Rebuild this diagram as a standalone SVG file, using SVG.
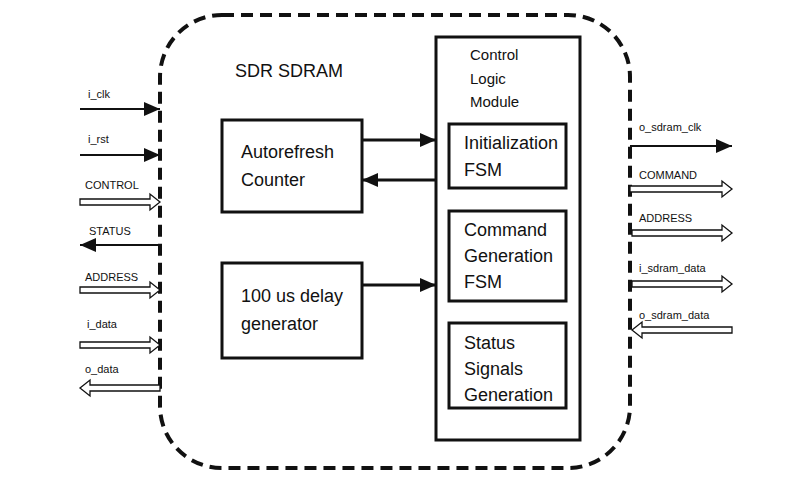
<svg xmlns="http://www.w3.org/2000/svg" width="795" height="491" viewBox="0 0 795 491">
<style>
text{font-family:"Liberation Sans",Arial,sans-serif;fill:#111}
.s{font-size:11px}.m{font-size:15px}.b{font-size:18px}
.box{fill:#fff;stroke:#111;stroke-width:3}
.ln{stroke:#111;stroke-width:2;fill:none}
.h{fill:#fff;stroke:#111;stroke-width:1.3}
</style>
<defs>
<marker id="a" markerWidth="16" markerHeight="14" refX="16" refY="7" orient="auto" markerUnits="userSpaceOnUse"><path d="M0,0L16,7L0,14Z" fill="#111"/></marker>
</defs>
<rect x="160" y="15" width="470" height="453" rx="62" fill="none" stroke="#111" stroke-width="4" stroke-dasharray="12,7"/>
<text x="235" y="77" class="b">SDR SDRAM</text>
<g id="autorefresh"><rect class="box" x="222" y="120" width="140" height="92"/><text x="241" y="158" class="b">Autorefresh</text><text x="241" y="186" class="b">Counter</text></g>
<g id="delay"><rect class="box" x="222" y="263" width="140" height="95"/><text x="241" y="302" class="b">100 us delay</text><text x="241" y="330" class="b">generator</text></g>
<g id="control"><rect class="box" x="436" y="37" width="144" height="403"/><text x="470" y="60" class="m">Control</text><text x="470" y="84" class="m">Logic</text><text x="470" y="107" class="m">Module</text></g>
<g id="init"><rect class="box" x="449" y="124" width="117" height="64"/><text x="464" y="149" class="b">Initialization</text><text x="464" y="176" class="b">FSM</text></g>
<g id="cmd"><rect class="box" x="449" y="211" width="117" height="90"/><text x="464" y="236" class="b">Command</text><text x="464" y="262" class="b">Generation</text><text x="464" y="288" class="b">FSM</text></g>
<g id="status"><rect class="box" x="449" y="323" width="117" height="85"/><text x="464" y="349" class="b">Status</text><text x="464" y="375" class="b">Signals</text><text x="464" y="401" class="b">Generation</text></g>
<g id="connectors">
<path class="ln" style="stroke-width:3" d="M362,140H436" marker-end="url(#a)"/>
<path class="ln" style="stroke-width:3" d="M436,180H362" marker-end="url(#a)"/>
<path class="ln" style="stroke-width:3" d="M362,285H436" marker-end="url(#a)"/>
<path class="ln" d="M80,109H160" marker-end="url(#a)"/>
<path class="ln" d="M80,155H160" marker-end="url(#a)"/>
<path class="ln" d="M160,245H80" marker-end="url(#a)"/>
<path class="ln" d="M630,146H732" marker-end="url(#a)"/>
<path class="h" d="M80,199H150V194L160,202L150,210V205H80Z"/>
<path class="h" d="M80,287H150V282L160,290L150,298V293H80Z"/>
<path class="h" d="M80,342H150V337L160,345L150,353V348H80Z"/>
<path class="h" d="M160,385H90V380L80,388L90,396V391H160Z"/>
<path class="h" d="M630,186H722V181L732,189L722,197V192H630Z"/>
<path class="h" d="M632,230H722V225L732,233L722,241V236H632Z"/>
<path class="h" d="M632,281H722V276L732,284L722,292V287H632Z"/>
<path class="h" d="M732,327H642V322L632,330L642,338V333H732Z"/>
</g>
<text x="88" y="98" class="s">i_clk</text>
<text x="88" y="143" class="s">i_rst</text>
<text x="85" y="189" class="s">CONTROL</text>
<text x="89" y="235" class="s">STATUS</text>
<text x="85" y="281" class="s">ADDRESS</text>
<text x="87" y="328" class="s">i_data</text>
<text x="85" y="373" class="s">o_data</text>
<text x="639" y="131" class="s">o_sdram_clk</text>
<text x="639" y="179" class="s">COMMAND</text>
<text x="639" y="222" class="s">ADDRESS</text>
<text x="639" y="272" class="s">i_sdram_data</text>
<text x="639" y="319" class="s">o_sdram_data</text>
</svg>
